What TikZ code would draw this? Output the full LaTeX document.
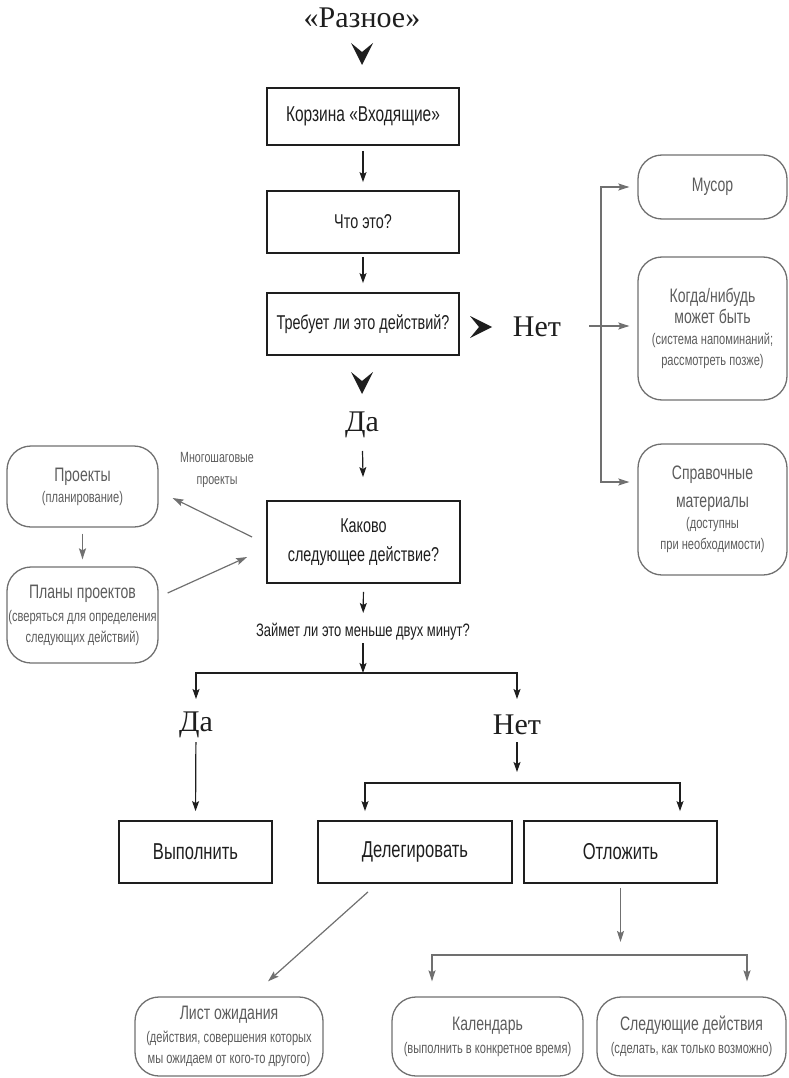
\documentclass[tikz,border=0pt]{standalone}
\usepackage{fontspec}
\setmainfont{Liberation Serif}
\newfontfamily\cond{Liberation Sans}[FakeStretch=0.72]
\usetikzlibrary{arrows.meta,calc}
\definecolor{gline}{HTML}{707070}
\definecolor{gtext}{HTML}{5C5C5C}
\definecolor{ink}{HTML}{1E1E1E}
\newcommand\gbS{\fontsize{15.4}{21}\selectfont}
\begin{document}
\begin{tikzpicture}[x=1pt,y=-1pt,
  blackbox/.style={draw=ink, line width=1.8pt, text=ink, font=\cond\fontsize{20}{29}\selectfont, align=center, inner sep=0pt},
  graybox/.style={draw=gline, line width=1.3pt, rounded corners=24pt, text=gtext, align=center, inner sep=0pt, font=\cond\fontsize{19.5}{21}\selectfont},
  biglabel/.style={font=\fontsize{30}{30}\selectfont, text=ink, inner sep=0pt},
  arr/.style={draw=ink, line width=1.2pt, -{Stealth[length=10pt,width=7pt,inset=2pt]}},
  garr/.style={draw=gline, line width=1.2pt, -{Stealth[length=11pt,width=7pt,inset=2pt]}},
  gl/.style={draw=gline, line width=1.2pt},
  chev/.style={fill=ink, draw=none},
]
\useasboundingbox (0,0) rectangle (788,1078);

% ---- main column
\node[biglabel] (raz) at (362,18) {«Разное»};
\node[blackbox, minimum width=192pt, minimum height=57pt, font=\cond\fontsize{21.5}{24}\selectfont] (inbox) at (363,116.5) {Корзина «Входящие»};
\node[blackbox, minimum width=192pt, minimum height=62pt] (what) at (363,222) {Что это?};
\node[blackbox, minimum width=192pt, minimum height=62pt] (act) at (363,324) {Требует ли это действий?};
\node[biglabel] (netA) at (537,327) {Нет};

% ---- right column
\node[graybox, minimum width=149pt, minimum height=64pt] (trash) at (712.5,187) {Мусор};
\node[graybox, minimum width=149pt, minimum height=143pt] (someday) at (712.5,328.5) {Когда/нибудь\\может быть\\\gbS(система напоминаний;\\\gbS рассмотреть позже)};
\node[graybox, minimum width=149pt, minimum height=131pt] (ref) at (712.5,509.5) {Справочные\\[7pt]материалы\\\gbS(доступны\\\gbS при необходимости)};

\node[biglabel] (daA) at (362,425) {Да};
\node[blackbox, minimum width=193pt, minimum height=82pt] (next) at (363.5,542) {Каково\\следующее действие?};

% ---- left column
\node[graybox, minimum width=151pt, minimum height=81pt] (proj) at (82.5,486.5) {Проекты\\\gbS(планирование)};
\node[graybox, minimum width=151pt, minimum height=96pt] (plans) at (82.5,615) {Планы проектов\\[2pt]\gbS(сверяться для определения\\\gbS следующих действий)};
\node[font=\cond\fontsize{14.8}{22}\selectfont, text=gtext, align=center, inner sep=0pt] (multi) at (217,470) {Многошаговые\\проекты};

\node[font=\cond\fontsize{18}{20}\selectfont, text=ink, inner sep=0pt] (q2) at (363,632) {Займет ли это меньше двух минут?};
\node[biglabel] (daB) at (196,725) {Да};
\node[biglabel] (netB) at (517,725) {Нет};

\node[blackbox, minimum width=153pt, minimum height=62pt, font=\cond\fontsize{23}{26}\selectfont] (do) at (195.5,852) {Выполнить};
\node[blackbox, minimum width=194pt, minimum height=62pt, font=\cond\fontsize{23}{26}\selectfont] (deleg) at (415,852) {Делегировать};
\node[blackbox, minimum width=193pt, minimum height=62pt, font=\cond\fontsize{23}{26}\selectfont] (defer) at (620.5,852) {Отложить};

\node[graybox, minimum width=188pt, minimum height=79pt] (wait) at (229,1036.5) {Лист ожидания\\[2pt]\gbS(действия, совершения которых\\\gbS мы ожидаем от кого-то другого)};
\node[graybox, minimum width=191pt, minimum height=79pt] (cal) at (487.5,1036.5) {Календарь\\[2pt]\gbS(выполнить в конкретное время)};
\node[graybox, minimum width=189pt, minimum height=79pt] (nexta) at (691.5,1036.5) {Следующие действия\\[2pt]\gbS(сделать, как только возможно)};

% ---- chevrons
\coordinate (c1) at (362,65);
\fill[chev] (c1) -- ++(-11,-22) -- ++(11,9) -- ++(11,-9) -- cycle;
\coordinate (c2) at (492,327);
\fill[chev] (c2) -- ++(-22,-11) -- ++(9,11) -- ++(-9,11) -- cycle;
\coordinate (c3) at (362,394);
\fill[chev] (c3) -- ++(-11,-22) -- ++(11,9) -- ++(11,-9) -- cycle;

% ---- connectors main column
\draw[arr, shorten <=5pt, shorten >=8pt] (inbox.south) -- (what.north);
\draw[arr, shorten <=3pt, shorten >=9pt] (what.south) -- (act.north);
\draw[arr, shorten <=26pt, shorten >=23pt] (daA.center) -- (next.north);
\draw[arr, shorten <=8pt, shorten >=19pt] (next.south) -- (q2.center);

% ---- Net branch (right)
\coordinate (br) at (601,326);
\draw[gl] ([xshift=52pt,yshift=1pt]netA.center) -- (br);
\draw[garr, shorten >=8pt] (br) -- (br -| someday.west);
\draw[garr, shorten >=8pt] (br) |- (trash.west);
\draw[garr, shorten >=8pt] (br) |- ([yshift=27.5pt]ref.west);

% ---- projects
\draw[garr] ([xshift=-14pt,yshift=5pt]next.west) -- ([xshift=14pt,yshift=-11.5pt]proj.east);
\draw[garr, shorten <=6pt, shorten >=7pt] (proj.south) -- (plans.north);
\draw[garr] ([xshift=9pt,yshift=22pt]plans.east) -- ([xshift=-19pt,yshift=-15pt]next.west);

% ---- two-minute split
\coordinate (s1) at (363,673);
\draw[arr, shorten <=11pt] (q2.center) -- (s1);
\draw[arr, shorten >=26pt] (s1) -| (daB.center);
\draw[arr, shorten >=26pt] (s1) -| (netB.center);
\draw[arr, shorten <=17pt, shorten >=9pt] (daB.center) -- (do.north);

\coordinate (s2) at (517,783);
\draw[arr, shorten <=17pt, shorten >=11pt] (netB.center) -- (s2);
\draw[arr, shorten >=9pt] (s2) -| ([xshift=-50pt]deleg.north);
\draw[arr, shorten >=9pt] (s2) -| ([xshift=59.5pt]defer.north);

% ---- bottom gray
\draw[garr] ([xshift=-47pt,yshift=-8pt]deleg.south) -- ([xshift=39pt,yshift=15pt]wait.north);
\coordinate (s3) at (620.5,955);
\draw[garr, shorten <=4pt, shorten >=13pt] (defer.south) -- (s3);
\draw[garr, shorten >=15pt] (s3) -| ([xshift=-55.5pt]cal.north);
\draw[garr, shorten >=15pt] (s3) -| ([xshift=55.5pt]nexta.north);
\end{tikzpicture}
\end{document}
